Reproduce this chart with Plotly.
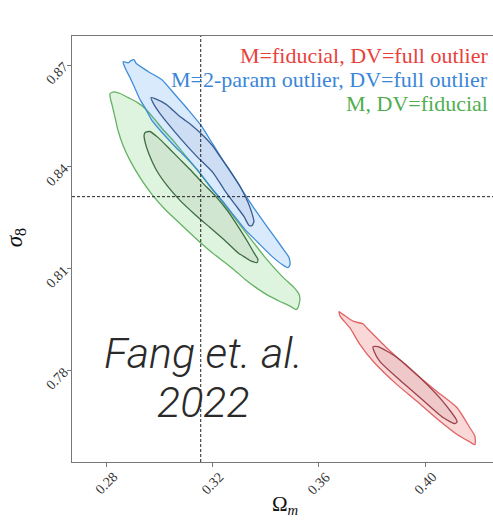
import plotly.graph_objects as go

# ---------------- data (Omega_m, sigma_8) contour outlines ----------------
OM_FID = 0.3156
S8_FID = 0.8312

X_RANGE = [0.2672, 0.4255]
Y_RANGE = [0.7530, 0.87855]

X_TICKS = [0.28, 0.32, 0.36, 0.40]
X_TICK_LABELS = ["0.28", "0.32", "0.36", "0.40"]
Y_TICKS = [0.78, 0.81, 0.84, 0.87]
Y_TICK_LABELS = ["0.78", "0.81", "0.84", "0.87"]

# M, DV=fiducial (green)
green_outer_om = [0.2815, 0.2830, 0.2853, 0.2883, 0.2917, 0.2947, 0.2984, 0.3014, 0.3052, 0.3089,
                  0.3142, 0.3195, 0.3247, 0.3323, 0.3398, 0.3462, 0.3507, 0.3526, 0.3529, 0.3522,
                  0.3514, 0.3495, 0.3454, 0.3409, 0.3364, 0.3323, 0.3285, 0.3247, 0.3199, 0.3146,
                  0.3086, 0.3026, 0.2973, 0.2928, 0.2890, 0.2864, 0.2845, 0.2834, 0.2823, 0.2815]
green_outer_s8 = [0.8616, 0.8621, 0.8616, 0.8604, 0.8590, 0.8572, 0.8539, 0.8510, 0.8478, 0.8442,
                  0.8392, 0.8339, 0.8286, 0.8209, 0.8133, 0.8077, 0.8044, 0.8024, 0.8009, 0.7985,
                  0.7979, 0.7988, 0.8003, 0.8021, 0.8044, 0.8068, 0.8094, 0.8118, 0.8147, 0.8183,
                  0.8227, 0.8271, 0.8318, 0.8368, 0.8419, 0.8463, 0.8507, 0.8545, 0.8581, 0.8607]
green_inner_om = [0.2947, 0.2965, 0.2996, 0.3041, 0.3078, 0.3116, 0.3161, 0.3210, 0.3259, 0.3304,
                  0.3334, 0.3356, 0.3371, 0.3368, 0.3349, 0.3323, 0.3296, 0.3247, 0.3191, 0.3135,
                  0.3078, 0.3029, 0.2988, 0.2962, 0.2947, 0.2943]
green_inner_s8 = [0.8501, 0.8504, 0.8486, 0.8451, 0.8422, 0.8392, 0.8354, 0.8315, 0.8268, 0.8215,
                  0.8177, 0.8147, 0.8127, 0.8118, 0.8121, 0.8133, 0.8147, 0.8183, 0.8221, 0.8259,
                  0.8301, 0.8345, 0.8392, 0.8436, 0.8472, 0.8492]

# M=2-param outlier, DV=full outlier (blue)
blue_outer_om = [0.2864, 0.2883, 0.2894, 0.2905, 0.2913, 0.2958, 0.3009, 0.3059, 0.3108, 0.3157,
                 0.3202, 0.3247, 0.3292, 0.3334, 0.3386, 0.3435, 0.3473, 0.3488, 0.3492, 0.3484,
                 0.3462, 0.3424, 0.3371, 0.3323, 0.3281, 0.3236, 0.3191, 0.3142, 0.3101, 0.3059,
                 0.3014, 0.2973, 0.2950, 0.2928, 0.2909, 0.2890, 0.2871]
blue_outer_s8 = [0.8710, 0.8706, 0.8713, 0.8716, 0.8705, 0.8681, 0.8657, 0.8613, 0.8569, 0.8522,
                 0.8466, 0.8410, 0.8357, 0.8304, 0.8245, 0.8192, 0.8150, 0.8133, 0.8112, 0.8103,
                 0.8112, 0.8136, 0.8177, 0.8215, 0.8256, 0.8301, 0.8342, 0.8392, 0.8427, 0.8460,
                 0.8498, 0.8536, 0.8569, 0.8598, 0.8631, 0.8663, 0.8693]
blue_inner_om = [0.2969, 0.2984, 0.3026, 0.3078, 0.3123, 0.3161, 0.3199, 0.3229, 0.3266, 0.3304,
                 0.3334, 0.3349, 0.3356, 0.3349, 0.3338, 0.3319, 0.3285, 0.3244, 0.3202, 0.3142,
                 0.3086, 0.3029, 0.3003, 0.2980]
blue_inner_s8 = [0.8604, 0.8601, 0.8584, 0.8548, 0.8522, 0.8495, 0.8463, 0.8430, 0.8389, 0.8342,
                 0.8295, 0.8262, 0.8239, 0.8227, 0.8227, 0.8253, 0.8289, 0.8333, 0.8383, 0.8430,
                 0.8478, 0.8531, 0.8557, 0.8584]

# M=fiducial, DV=full outlier (red)
red_outer_om = [0.3676, 0.3691, 0.3729, 0.3766, 0.3781, 0.3856, 0.3954, 0.4044, 0.4120, 0.4168,
                0.4187, 0.4187, 0.4168, 0.4120, 0.4056, 0.3969, 0.3894, 0.3804, 0.3755, 0.3717, 0.3680]
red_outer_s8 = [0.7973, 0.7965, 0.7945, 0.7937, 0.7925, 0.7866, 0.7797, 0.7738, 0.7690, 0.7631,
                0.7606, 0.7581, 0.7589, 0.7611, 0.7650, 0.7709, 0.7758, 0.7827, 0.7876, 0.7925, 0.7960]
red_inner_om = [0.3804, 0.3823, 0.3894, 0.3980, 0.4067, 0.4120, 0.4112, 0.4067, 0.3980, 0.3894,
                0.3830, 0.3808]
red_inner_s8 = [0.7870, 0.7870, 0.7838, 0.7779, 0.7708, 0.7649, 0.7643, 0.7661, 0.7720, 0.7779,
                0.7826, 0.7856]

LABELS = ["M=fiducial, DV=full outlier",
          "M=2-param outlier, DV=full outlier",
          "M, DV=fiducial"]
LABEL_COLORS = ["#e8413c", "#3a86d8", "#4fae4f"]

# ---------------- figure ----------------
fig = go.Figure()


def contour(xs, ys, fill, line):
    fig.add_trace(go.Scatter(
        x=xs + xs[:1], y=ys + ys[:1], mode="lines", fill="toself",
        fillcolor=fill, line=dict(color=line, width=1.3, shape="spline", smoothing=0.6),
        hoverinfo="skip", showlegend=False))


contour(green_outer_om, green_outer_s8, "rgba(80,195,80,0.19)", "rgba(85,170,85,0.9)")
contour(green_inner_om, green_inner_s8, "rgba(50,80,50,0.08)", "rgba(55,100,60,0.95)")
contour(blue_outer_om, blue_outer_s8, "rgba(60,150,235,0.20)", "rgba(55,135,215,0.95)")
contour(blue_inner_om, blue_inner_s8, "rgba(70,70,150,0.07)", "rgba(50,85,140,0.95)")
contour(red_outer_om, red_outer_s8, "rgba(235,50,50,0.19)", "rgba(220,85,85,0.9)")
contour(red_inner_om, red_inner_s8, "rgba(120,40,50,0.09)", "rgba(150,60,70,0.95)")

# fiducial cross-hair
fig.add_shape(type="line", xref="x", yref="paper", x0=OM_FID, x1=OM_FID, y0=0, y1=1,
              line=dict(color="#222", width=1, dash="3px,2px"))
fig.add_shape(type="line", xref="paper", yref="y", x0=0, x1=1, y0=S8_FID, y1=S8_FID,
              line=dict(color="#222", width=1, dash="3px,2px"))

serif = "Liberation Serif"

# legend-like labels
label_y = [0.955, 0.899, 0.841]
for txt, col, yy in zip(LABELS, LABEL_COLORS, label_y):
    fig.add_annotation(text=txt, xref="paper", yref="paper", x=0.993, y=yy,
                       xanchor="right", yanchor="middle", showarrow=False,
                       font=dict(family=serif, size=22, color=col))

# watermark
fig.add_annotation(text="Fang et. al.", xref="paper", yref="paper", x=0.312, y=0.255,
                   xanchor="center", yanchor="middle", showarrow=False,
                   font=dict(family="Roboto", size=43, color="#2a2a2a", style="italic", weight=300))
fig.add_annotation(text="2022", xref="paper", yref="paper", x=0.312, y=0.14,
                   xanchor="center", yanchor="middle", showarrow=False,
                   font=dict(family="Roboto", size=43, color="#2a2a2a", style="italic", weight=300))

# x tick labels rotated
for v, t in zip(X_TICKS, X_TICK_LABELS):
    fig.add_annotation(text=t, xref="x", yref="paper", x=v, y=0, yshift=-21,
                       xanchor="center", yanchor="middle", textangle=-45, showarrow=False,
                       font=dict(family=serif, size=14, color="#333"))

# axis titles
fig.add_annotation(text="Ω<sub><i>m</i></sub>", xref="paper", yref="paper", x=0.506, y=0,
                   yshift=-43, xanchor="center", yanchor="middle", showarrow=False,
                   font=dict(family=serif, size=21, color="#111"))
fig.add_annotation(text="<i>σ</i><sub>8</sub>", xref="paper", yref="paper", x=0, y=0.525,
                   xshift=-56, xanchor="center", yanchor="middle", textangle=-90, showarrow=False,
                   font=dict(family=serif, size=23, color="#111"))

axis_common = dict(showgrid=False, zeroline=False, showline=True, linecolor="#777",
                   linewidth=1.3, ticks="outside", ticklen=4, tickcolor="#777", tickwidth=1)
fig.update_xaxes(range=X_RANGE, tickvals=X_TICKS, ticktext=X_TICK_LABELS, showticklabels=False,
                 mirror=True, **axis_common)
fig.update_yaxes(range=Y_RANGE, tickvals=Y_TICKS, ticktext=Y_TICK_LABELS, tickangle=-45,
                 tickfont=dict(family=serif, size=14, color="#333"), mirror=False, **axis_common)

fig.update_layout(width=493, height=521, autosize=False, plot_bgcolor="white",
                  paper_bgcolor="white", margin=dict(l=72, r=0, t=36, b=59))

fig.write_html("out.html")
